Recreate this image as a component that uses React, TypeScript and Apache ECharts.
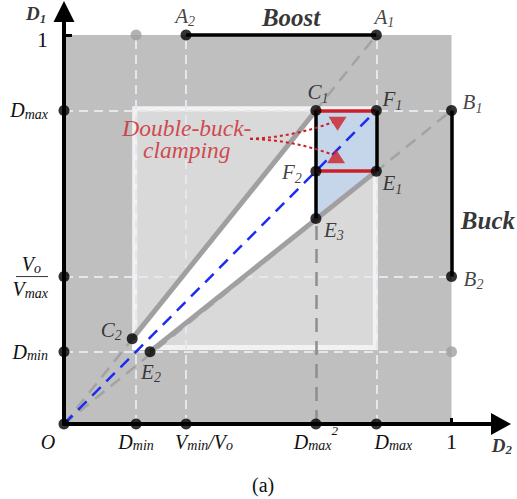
import React, { useEffect, useRef } from 'react';
import * as echarts from 'echarts';

const SERIF = 'Liberation Serif, Times New Roman, Times, serif';

// ---------- values (D2 horizontal, D1 vertical) ----------
const D_MIN = 0.186;
const D_MAX = 0.806;
const D_MAX_SQ = 0.65;
const VMIN_OVER_VO = 0.315;
const VO_OVER_VMAX = 0.379;

const xTickValues = [0, D_MIN, VMIN_OVER_VO, D_MAX_SQ, D_MAX, 1];
const xTickLabels = ['O', 'D_min', 'V_min/V_o', 'D_max^2', 'D_max', '1'];
const yTickValues = [D_MIN, VO_OVER_VMAX, D_MAX, 1];
const yTickLabels = ['D_min', 'V_o/V_max', 'D_max', '1'];

const pointNames = ['A_2', 'A_1', 'B_1', 'B_2', 'C_1', 'F_1', 'F_2', 'E_1', 'E_3', 'C_2', 'E_2'];
const pointD2 = [0.315, 0.806, 1, 1, 0.65, 0.806, 0.65, 0.806, 0.65, 0.176, 0.222];
const pointD1 = [1, 1, 0.806, 0.379, 0.806, 0.806, 0.65, 0.65, 0.528, 0.219, 0.186];

const axisDotsD2 = [0, D_MIN, VMIN_OVER_VO, D_MAX_SQ, D_MAX];
const axisDotsD1 = [D_MIN, VO_OVER_VMAX, D_MAX];
const greyDotsD2 = [D_MIN, 1];
const greyDotsD1 = [1, D_MIN];

const regionD2 = [0, 1];
const regionD1 = [0, 1];
const operatingD2 = [0.176, 0.81];
const operatingD1 = [0.19, 0.817];

// annotation anchors (data space)
const calloutStart = [0.48, 0.733];
const calloutEnds = [[0.694, 0.776], [0.689, 0.694]];
const clampMarksD2 = [0.706, 0.702];
const clampMarksD1 = [0.772, 0.688];

// ---------- layout / style (kept apart from data) ----------
const X_MAX = 1.1277;
const Y_MAX = 1.0604;
const xLabelShift: Record<number, number> = { 0: -16, 2: 18, 4: 17 };
const pointLabelOffset: Record<string, number[]> = {
  A_2: [-1, -19], A_1: [8, -18], B_1: [21, -8], B_2: [22, 2], C_1: [2, -18],
  F_1: [16, -11], F_2: [-24, 1], E_1: [16, 12], E_3: [18, 11], C_2: [-21, -9], E_2: [1, 20],
};

const P = (n: string) => {
  const i = pointNames.indexOf(n);
  return [pointD2[i], pointD1[i]];
};
const O = [0, 0];

function toRich(t: string, main: string, sub: string, sup: string) {
  return t
    .split(/(_[A-Za-z0-9]+|\^[0-9]+)/)
    .filter((s) => s.length > 0)
    .map((p) =>
      p[0] === '_' ? `{${sub}|${p.slice(1)}}` : p[0] === '^' ? `{${sup}|${p.slice(1)}}` : `{${main}|${p}}`
    )
    .join('');
}

const it = (size: number, extra: any = {}) => ({
  fontFamily: SERIF, fontStyle: 'italic', fontSize: size, color: '#111', ...extra,
});

const xRich: any = {
  d: it(20, { lineHeight: 28, verticalAlign: 'bottom' }),
  s: it(14, { verticalAlign: 'bottom', lineHeight: 14 }),
  p: it(13, { verticalAlign: 'top', lineHeight: 13 }),
  one: { fontFamily: SERIF, fontSize: 22, color: '#111', lineHeight: 28, verticalAlign: 'bottom' },
};
Object.values(xLabelShift).forEach((s) => {
  xRich['sp' + Math.abs(s) * 2] = { width: Math.abs(s) * 2, lineHeight: 2 };
});

const yRich: any = {
  d: it(20, { lineHeight: 22 }),
  s: it(14, { verticalAlign: 'bottom', lineHeight: 14 }),
  one: { fontFamily: SERIF, fontSize: 22, color: '#111', lineHeight: 32, verticalAlign: 'bottom' },
  gap: { width: 7 },
  bar: { width: 32, height: 1, lineHeight: 3, backgroundColor: '#333' },
};

const xFmt = (v: number) => {
  const i = xTickValues.findIndex((t) => Math.abs(t - v) < 1e-9);
  if (i < 0) return '';
  const lab = xTickLabels[i];
  const body = /^\d+$/.test(lab) ? `{one|${lab}}` : toRich(lab, 'd', 's', 'p');
  const sh = xLabelShift[i];
  if (!sh) return body;
  const sp = `{sp${Math.abs(sh) * 2}| }`;
  return sh > 0 ? sp + body : body + sp;
};

const yFmt = (v: number) => {
  const i = yTickValues.findIndex((t) => Math.abs(t - v) < 1e-9);
  if (i < 0) return '';
  const lab = yTickLabels[i];
  if (lab.includes('/')) {
    const [n, d] = lab.split('/');
    return toRich(n, 'd', 's', 's') + '{gap| }\n{bar| }\n' + toRich(d, 'd', 's', 's');
  }
  if (/^\d+$/.test(lab)) return `{one|${lab}}`;
  return toRich(lab, 'd', 's', 's');
};

const seg = (a: number[], b: number[]) => ({ coords: [a, b] });
const linesSeries = (z: number, color: string, width: number, type: any, data: any[], extra: any = {}) => ({
  type: 'lines',
  coordinateSystem: 'cartesian2d',
  z,
  silent: true,
  polyline: false,
  lineStyle: { color, width, type, opacity: 1, cap: 'butt', ...extra },
  data,
});

// boundary lines through O
const upperSlope = P('A_1')[1] / P('A_1')[0];
const lowerSlope = P('B_1')[1] / P('B_1')[0];
const wedge = [
  [operatingD2[0], operatingD1[0]],
  [operatingD2[0], operatingD2[0] * upperSlope],
  P('C_1'),
  P('E_3'),
  [operatingD1[0] / lowerSlope, operatingD1[0]],
];
const clampZone = [P('C_1'), P('F_1'), P('E_1'), P('E_3')];

const ptRich = {
  L: it(21, { lineHeight: 26 }),
  s: it(14, { verticalAlign: 'bottom', lineHeight: 14 }),
};

const boldName = {
  b: { fontFamily: SERIF, fontStyle: 'italic', fontWeight: 'bold', fontSize: 19, color: '#000', lineHeight: 22 },
  bs: { fontFamily: SERIF, fontStyle: 'italic', fontWeight: 'bold', fontSize: 13, color: '#000', verticalAlign: 'bottom', lineHeight: 13 },
};

const option: any = {
  animation: false,
  tooltip: { show: false },
  grid: { left: 64, right: 16, top: 11.5, bottom: 75, containLabel: false, outerBoundsMode: 'none' },
  xAxis: {
    type: 'value', min: 0, max: X_MAX, z: 20,
    axisLine: { show: true, onZero: false, lineStyle: { color: '#000', width: 4 }, symbol: ['none', 'triangle'], symbolSize: [22, 20] },
    axisTick: { show: true, inside: true, length: 6, lineStyle: { color: '#000', width: 3 }, customValues: [1] },
    splitLine: { show: false },
    axisLabel: { show: true, customValues: xTickValues, formatter: xFmt, margin: 0, rich: xRich, hideOverlap: false },
  },
  yAxis: {
    type: 'value', min: 0, max: Y_MAX, z: 20,
    axisLine: { show: true, onZero: false, lineStyle: { color: '#000', width: 4 }, symbol: ['none', 'triangle'], symbolSize: [21, 21] },
    axisTick: { show: true, inside: true, length: 8, lineStyle: { color: '#000', width: 3 }, customValues: [1] },
    splitLine: { show: false },
    axisLabel: { show: true, customValues: yTickValues, formatter: yFmt, margin: 16, rich: yRich, hideOverlap: false },
  },
  series: [
    {
      type: 'custom', coordinateSystem: 'cartesian2d', z: 1, silent: true, clip: false,
      data: [[0, 0], [1, 0]],
      renderItem: (params: any, api: any) => {
        if (params.dataIndex === 0) {
          const a = api.coord([regionD2[0], regionD1[0]]);
          const b = api.coord([regionD2[1], regionD1[1]]);
          return { type: 'rect', shape: { x: a[0], y: b[1], width: b[0] - a[0], height: a[1] - b[1] }, style: { fill: '#bfbfbf' } };
        }
        const a = api.coord([operatingD2[0], operatingD1[0]]);
        const b = api.coord([operatingD2[1], operatingD1[1]]);
        const x = a[0], y = b[1], w = b[0] - a[0], h = a[1] - b[1], bw = 5;
        return {
          type: 'group',
          children: [
            { type: 'rect', shape: { x, y, width: w, height: h }, style: { fill: '#f2f2f2' } },
            { type: 'rect', shape: { x: x + bw, y: y + bw, width: w - 2 * bw, height: h - 2 * bw }, style: { fill: '#d9d9d9' } },
          ],
        };
      },
    },
    // light dashed guide lines
    linesSeries(2, '#e3e7ee', 2, [9, 6], [
      seg([D_MIN, 0], [D_MIN, 1]),
      seg([VMIN_OVER_VO, 0], [VMIN_OVER_VO, 1]),
      seg([D_MAX, 0], [D_MAX, 1]),
      seg([0, D_MAX], [1, D_MAX]),
      seg([0, VO_OVER_VMAX], [1, VO_OVER_VMAX]),
      seg([0, D_MIN], [1, D_MIN]),
    ]),
    {
      type: 'custom', coordinateSystem: 'cartesian2d', z: 3, silent: true, clip: false,
      data: [[0, 0], [1, 0]],
      renderItem: (params: any, api: any) => {
        const poly = params.dataIndex === 0 ? wedge : clampZone;
        return {
          type: 'polygon',
          shape: { points: poly.map((p) => api.coord(p)) },
          style: { fill: params.dataIndex === 0 ? '#ffffff' : '#c5d5ea' },
        };
      },
    },
    // grey dashed construction lines
    linesSeries(4, '#a3a3a3', 2.5, [12, 8], [seg(O, P('A_1')), seg(O, P('B_1'))]),
    linesSeries(4, '#8e8e8e', 2.5, [14, 9], [seg([D_MAX_SQ, 0], P('E_3'))]),
    // thick grey boundary lines
    linesSeries(5, '#a29fa3', 5, 'solid', [seg(P('C_2'), P('C_1')), seg(P('E_2'), P('E_1'))]),
    // blue diagonal D1 = D2
    linesSeries(6, '#1b2cf2', 2.5, [12, 8], [seg(O, P('F_1'))]),
    // black segments
    linesSeries(7, '#000000', 3.5, 'solid', [
      seg(P('A_2'), P('A_1')), seg(P('B_1'), P('B_2')), seg(P('C_1'), P('E_3')), seg(P('F_1'), P('E_1')),
    ]),
    // red clamping segments
    linesSeries(7, '#cc1f27', 3.5, 'solid', [seg(P('C_1'), P('F_1')), seg(P('F_2'), P('E_1'))]),
    // red dotted callouts
    linesSeries(8, '#cc1f27', 2, [3, 3], [seg(calloutStart, calloutEnds[0])], { curveness: -0.08 }),
    linesSeries(8, '#cc1f27', 2, [3, 3], [seg(calloutStart, calloutEnds[1])], { curveness: 0.08 }),
    {
      type: 'scatter', z: 8, silent: true, clip: false,
      symbol: 'triangle', symbolSize: [18, 14],
      itemStyle: { color: '#cc1f27' },
      data: [
        { value: [clampMarksD2[0], clampMarksD1[0]], symbolRotate: 180 },
        { value: [clampMarksD2[1], clampMarksD1[1]] },
      ],
    },
    // grey dots
    {
      type: 'scatter', z: 30, silent: true, clip: false, symbolSize: 11,
      itemStyle: { color: '#a0a0a0' },
      data: greyDotsD2.map((x, i) => [x, greyDotsD1[i]]),
    },
    // axis dots
    {
      type: 'scatter', z: 30, silent: true, clip: false, symbolSize: 11,
      itemStyle: { color: '#000' },
      data: [...axisDotsD2.map((x) => [x, 0]), ...axisDotsD1.map((y) => [0, y])],
    },
    // named points
    {
      type: 'scatter', z: 30, silent: true, clip: false, symbolSize: 11,
      itemStyle: { color: '#000' },
      label: { show: true, position: 'inside', rich: ptRich },
      data: pointNames.map((n, i) => ({
        value: [pointD2[i], pointD1[i]],
        label: { formatter: toRich(n, 'L', 's', 's'), offset: pointLabelOffset[n] },
      })),
    },
    // annotation texts
    {
      type: 'scatter', z: 30, silent: true, clip: false, symbolSize: 0,
      label: { show: true, position: 'inside' },
      data: [
        { value: [0.586, 1.046], label: { formatter: 'Boost', fontFamily: SERIF, fontStyle: 'italic', fontWeight: 'bold', fontSize: 25, color: '#000' } },
        { value: [1.094, 0.524], label: { formatter: 'Buck', fontFamily: SERIF, fontStyle: 'italic', fontWeight: 'bold', fontSize: 25, color: '#000' } },
        { value: [-0.072, 1.054], label: { formatter: '{b|D}{bs|1}', rich: boldName } },
        { value: [1.13, -0.054], label: { formatter: '{b|D}{bs|2}', rich: boldName } },
        {
          value: [0.317, 0.733],
          label: { formatter: 'Double-buck-\nclamping', fontFamily: SERIF, fontStyle: 'italic', fontSize: 23.5, lineHeight: 22, color: '#cc2229', align: 'center' },
        },
      ],
    },
  ],
  graphic: [
    { type: 'text', left: 252, top: 475, style: { text: '(a)', fontFamily: SERIF, fontSize: 20, fill: '#111' } },
  ],
};

export default function App() {
  const ref = useRef<HTMLDivElement>(null);
  useEffect(() => {
    document.body.style.margin = '0';
    const chart = echarts.init(ref.current!, null, { renderer: 'svg' });
    chart.setOption(option);
    return () => chart.dispose();
  }, []);
  return <div ref={ref} style={{ width: 517, height: 499, overflow: 'hidden' }} />;
}
